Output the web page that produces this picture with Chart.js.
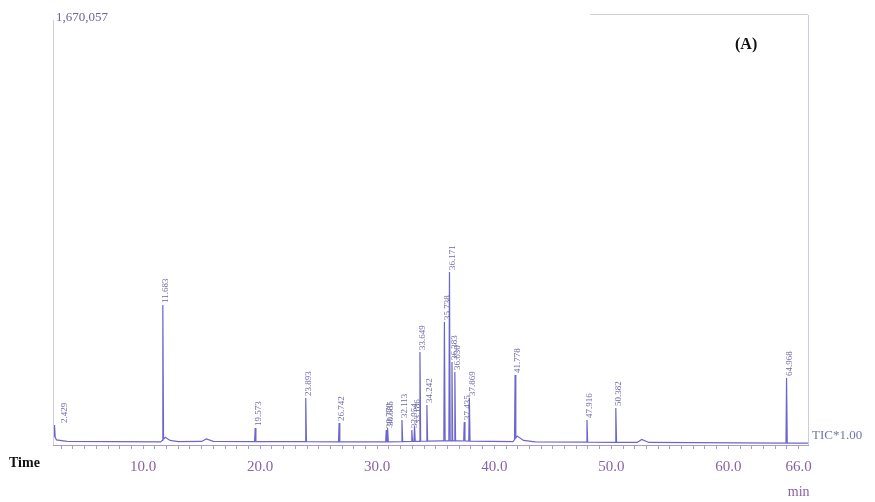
<!DOCTYPE html>
<html>
<head>
<meta charset="utf-8">
<script src="https://cdn.jsdelivr.net/npm/chart.js@4.4.0/dist/chart.umd.min.js"></script>
<style>
  html, body { margin: 0; padding: 0; background: #fff; }
  #wrap { position: relative; width: 875px; height: 502px; }
</style>
</head>
<body>
<div id="wrap"><canvas id="tic"></canvas></div>
<script>
// retention time (min), peak height (counts), printed label
var peakTimes = [2.429, 11.683, 19.573, 23.893, 26.742, 30.770, 30.885, 32.113, 32.954, 33.186,
  33.649, 34.242, 35.738, 36.171, 36.383, 36.630, 37.435, 37.869, 41.778, 47.916, 50.382, 64.968];
var peakHeights = [78600, 550000, 67000, 185000, 86000, 59000, 67000, 98000, 59000, 75000,
  365000, 157000, 483000, 680000, 326000, 287000, 90000, 185000, 275000, 98000, 145000, 263000];
var peakLabels = ['2.429', '11.683', '19.573', '23.893', '26.742', '30.770', '30.885', '32.113', '32.954', '33.186',
  '33.649', '34.242', '35.738', '36.171', '36.383', '36.630', '37.435', '37.869', '41.778', '47.916', '50.382', '64.968'];

// baseline between the peaks (time, counts)
var baseTimes = [2.3, 2.6, 3.5, 11.5, 11.9, 12.3, 13.0, 15.0, 15.4, 16.0, 30.0, 35.5, 37.0, 41.6, 41.95, 42.5, 43.5, 52.2, 52.6, 53.2, 66.8];
var baseValues = [45000, 20000, 14000, 12000, 30000, 18000, 13000, 14000, 24000, 14000, 12000, 16000, 16000, 13000, 35000, 18000, 12000, 10000, 22000, 10000, 7000];

var tickValues = [10, 20, 30, 40, 50, 60, 66];
var yMax = 1670057;

function baseAt(t) {
  for (var i = 1; i < baseTimes.length; i++) {
    if (t <= baseTimes[i]) {
      var f = (t - baseTimes[i - 1]) / (baseTimes[i] - baseTimes[i - 1]);
      return baseValues[i - 1] + f * (baseValues[i] - baseValues[i - 1]);
    }
  }
  return baseValues[baseValues.length - 1];
}

var trace = baseTimes.map(function(t, i) { return { x: t, y: baseValues[i] }; });
peakTimes.forEach(function(t, i) {
  trace.push({ x: t - 0.05, y: baseAt(t - 0.05) });
  trace.push({ x: t, y: peakHeights[i] });
  trace.push({ x: t + 0.06, y: baseAt(t + 0.06) });
});
trace.sort(function(a, b) { return a.x - b.x; });

var peakLabelPlugin = {
  id: 'peakLabels',
  afterDatasetsDraw: function(chart) {
    var ctx = chart.ctx, xs = chart.scales.x, ys = chart.scales.y;
    ctx.save();
    ctx.fillStyle = '#6f69a8';
    ctx.font = '9px "Liberation Serif"';
    ctx.textAlign = 'left';
    ctx.textBaseline = 'middle';
    peakTimes.forEach(function(t, i) {
      var px = xs.getPixelForValue(t), py = ys.getPixelForValue(peakHeights[i]);
      ctx.save();
      ctx.translate(px + (i === 0 ? 10 : 3), py - 2);
      ctx.rotate(-Math.PI / 2);
      ctx.fillText(peakLabels[i], 0, 0);
      ctx.restore();
    });
    ctx.restore();
  }
};

var framePlugin = {
  id: 'frame',
  afterDraw: function(chart) {
    var ctx = chart.ctx, a = chart.chartArea;
    ctx.save();
    ctx.strokeStyle = '#cfcfdc';
    ctx.lineWidth = 1;
    ctx.beginPath();
    ctx.moveTo(a.left + 0.5, a.top); ctx.lineTo(a.left + 0.5, a.bottom);
    ctx.moveTo(a.right + 0.5, a.top - 5); ctx.lineTo(a.right + 0.5, a.bottom);
    ctx.moveTo(590, a.top - 5.5); ctx.lineTo(a.right, a.top - 5.5);
    ctx.stroke();

    ctx.fillStyle = '#6b63a0';
    ctx.font = '13px "Liberation Serif"';
    ctx.textAlign = 'left';
    ctx.textBaseline = 'middle';
    ctx.fillText('1,670,057', 56, 18);

    ctx.fillStyle = '#111';
    ctx.font = 'bold 16px "Liberation Serif"';
    ctx.fillText('(A)', 735, 45);

    ctx.font = 'bold 14px "Liberation Serif"';
    ctx.fillText('Time', 9, 463);

    ctx.fillStyle = '#6f78a8';
    ctx.font = '13px "Liberation Serif"';
    ctx.fillText('TIC*1.00', 812, 436);

    ctx.fillStyle = '#8a62a6';
    ctx.font = '14px "Liberation Serif"';
    ctx.textAlign = 'center';
    ctx.fillText('min', chart.scales.x.getPixelForValue(66), 492);
    ctx.restore();
  }
};

new Chart(document.getElementById('tic').getContext('2d'), {
  type: 'line',
  data: {
    datasets: [{
      label: 'TIC',
      data: trace,
      borderColor: '#6c66cc',
      borderWidth: 1.2,
      pointRadius: 0,
      tension: 0
    }]
  },
  options: {
    responsive: true,
    maintainAspectRatio: false,
    animation: false,
    layout: { padding: { left: 53, right: 67, top: 20, bottom: 0 } },
    plugins: { legend: { display: false }, tooltip: { enabled: false } },
    scales: {
      x: {
        type: 'linear',
        min: 2.3,
        max: 66.8,
        afterBuildTicks: function(scale) {
          var ticks = [];
          for (var m = 3; m <= 66; m++) ticks.push({ value: m });
          scale.ticks = ticks;
        },
        afterFit: function(scale) { scale.height = 57; },
        ticks: {
          autoSkip: false,
          maxRotation: 0,
          padding: 9,
          color: '#8a62a6',
          font: { family: '"Liberation Serif"', size: 15 },
          callback: function(v) { return tickValues.indexOf(v) >= 0 ? v.toFixed(1) : ''; }
        },
        grid: { drawOnChartArea: false, drawTicks: true, tickLength: 4, color: '#a99ad0' },
        border: { display: true, color: '#a99ad0' }
      },
      y: {
        display: false,
        min: 0,
        max: yMax
      }
    }
  },
  plugins: [peakLabelPlugin, framePlugin]
});
</script>
</body>
</html>
